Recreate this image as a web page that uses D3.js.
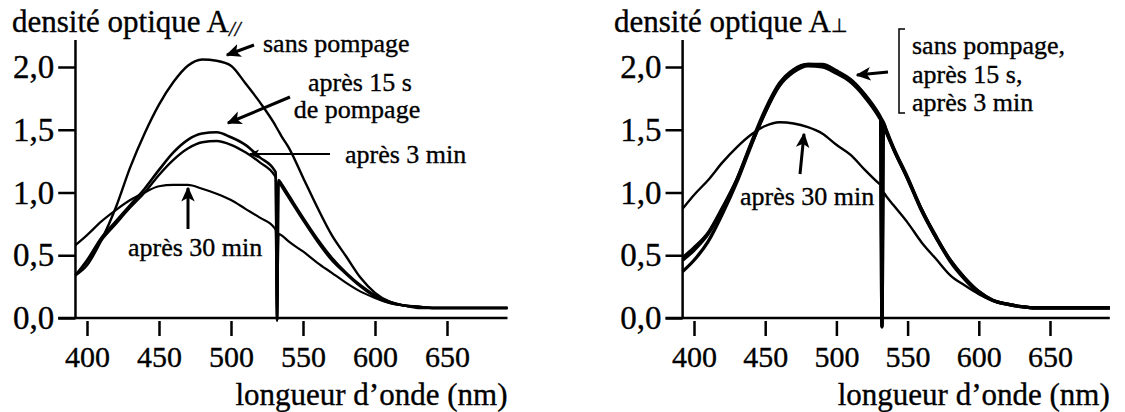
<!DOCTYPE html>
<html><head><meta charset="utf-8">
<script src="https://cdn.jsdelivr.net/npm/d3@7"></script>
<style>body{margin:0;background:#fff}svg{display:block}svg text{font-family:"Liberation Serif",Tinos,"Times New Roman",serif;fill:#000;stroke:#000;stroke-width:0.35px}</style>
</head><body><svg id="c" width="1125" height="412"></svg>
<script>
const wavelengths = [392,400,410,420,430,440,450,460,470,480,490,500,510,520,530,531,532,533,535,540,550,560,570,580,590,600,610,620,630,640,660,692];
const xTicks = [400,450,500,550,600,650];
const yTicks = [0,0.5,1,1.5,2];
const yTickLabels = ["0,0","0,5","1,0","1,5","2,0"];

// A// (parallel)
const paraSans    = [0.34,0.42,0.62,0.88,1.20,1.47,1.70,1.88,2.01,2.06,2.05,2.01,1.87,1.72,1.55,1.53,1.51,1.49,1.45,1.36,1.12,0.88,0.66,0.49,0.32,0.20,0.13,0.10,0.08,0.08,0.08,0.08];
const para15s     = [0.34,0.46,0.64,0.77,0.90,1.03,1.18,1.32,1.42,1.47,1.48,1.44,1.38,1.28,1.18,1.16,-0.02,1.10,1.07,0.98,0.80,0.63,0.48,0.36,0.26,0.18,0.13,0.10,0.09,0.08,0.08,0.08];
const para3min    = [0.34,0.45,0.62,0.75,0.88,1.00,1.14,1.26,1.35,1.40,1.41,1.38,1.32,1.24,1.14,1.12,-0.02,1.09,1.05,0.96,0.78,0.61,0.46,0.35,0.25,0.17,0.12,0.10,0.09,0.08,0.08,0.08];
const para30min   = [0.58,0.66,0.77,0.86,0.94,1.00,1.05,1.06,1.06,1.03,0.99,0.94,0.87,0.80,0.72,0.70,-0.02,0.67,0.66,0.61,0.53,0.44,0.36,0.28,0.21,0.16,0.12,0.10,0.09,0.08,0.08,0.08];
// A⊥ (perpendicular)
const perpSans    = [0.48,0.56,0.68,0.88,1.10,1.38,1.64,1.86,1.97,2.02,2.02,1.97,1.90,1.78,1.62,1.60,1.58,1.56,1.50,1.36,1.12,0.86,0.65,0.46,0.32,0.21,0.14,0.11,0.09,0.08,0.08,0.08];
const perp15s     = [0.46,0.54,0.67,0.87,1.10,1.39,1.66,1.87,1.98,2.02,2.01,1.96,1.89,1.77,1.61,1.59,-0.07,1.55,1.49,1.35,1.11,0.86,0.64,0.46,0.32,0.21,0.14,0.11,0.09,0.08,0.08,0.08];
const perp3min    = [0.37,0.46,0.61,0.83,1.08,1.37,1.64,1.85,1.96,2.01,2.00,1.95,1.88,1.76,1.60,1.58,-0.07,1.54,1.48,1.35,1.11,0.85,0.64,0.45,0.31,0.20,0.14,0.11,0.09,0.08,0.08,0.08];
const perp30min   = [0.87,0.98,1.10,1.24,1.36,1.46,1.53,1.56,1.55,1.52,1.47,1.38,1.30,1.18,1.07,1.06,-0.07,1.00,0.97,0.90,0.76,0.60,0.47,0.34,0.26,0.19,0.14,0.11,0.09,0.08,0.08,0.08];

const FONT = '"Liberation Serif", Tinos, "Times New Roman", serif';
const svg = d3.select("#c");
const defs = svg.append("defs");
defs.append("marker").attr("id","ah").attr("viewBox","0 0 10 10").attr("refX",9).attr("refY",5)
  .attr("markerWidth",5).attr("markerHeight",5).attr("markerUnits","strokeWidth").attr("orient","auto")
  .append("path").attr("d","M0,0.5 L10,5 L0,9.5 L2.5,5 Z").attr("fill","#000");

const y = d3.scaleLinear().domain([0,2]).range([318,67]);

function panel(opts){
  const g = svg.append("g");
  const x = d3.scaleLinear().domain([400,650]).range(opts.xr);
  g.append("line").attr("x1",x(380)).attr("x2",x(692)).attr("y1",y(0)).attr("y2",y(0)).attr("stroke","#000").attr("stroke-width",2.5);
  g.append("line").attr("x1",x(392)).attr("x2",x(392)).attr("y1",40).attr("y2",y(0)).attr("stroke","#000").attr("stroke-width",2.5);
  const xa = g.append("g").attr("transform",`translate(0,${y(0)+3})`)
    .call(d3.axisBottom(x).tickValues(xTicks).tickSize(15).tickPadding(10).tickFormat(d3.format("d")));
  xa.attr("font-family",FONT);
  xa.select(".domain").remove();
  xa.selectAll("line").attr("stroke","#000").attr("stroke-width",2.5);
  xa.selectAll("text").attr("font-size",30).attr("fill","#000");
  const ya = g.append("g").attr("transform",`translate(${x(392)},0)`)
    .call(d3.axisLeft(y).tickValues(yTicks).tickSize(x(392)-x(380)).tickPadding(4).tickFormat((d,i)=>yTickLabels[i]));
  ya.attr("font-family",FONT);
  ya.select(".domain").remove();
  ya.selectAll("line").attr("stroke","#000").attr("stroke-width",2.5);
  ya.selectAll("text").attr("font-size",33).attr("fill","#000");
  const line = d3.line().x((d,i)=>x(wavelengths[i])).y(d=>y(d)).curve(d3.curveMonotoneX);
  opts.series.forEach(s=>{
    g.append("path").attr("d",line(s.v)).attr("fill","none").attr("stroke","#000")
      .attr("stroke-width",s.w).attr("stroke-linejoin","round");
  });
  const t = g.append("text").attr("x",opts.tx).attr("y",32).attr("font-size",31).attr("font-family",FONT).text("densité optique A");
  t.append("tspan").attr("font-size",opts.subSize).attr("dy",opts.subDy).attr("font-style",opts.subStyle).text(opts.sub);
  g.append("text").attr("x",x(692)).attr("y",405).attr("text-anchor","end").attr("font-size",31).attr("font-family",FONT).text("longueur d’onde (nm)");
  return {g,x};
}

panel({xr:[87,447], tx:12, sub:"//", subSize:21, subDy:4, subStyle:"italic",
  series:[{v:paraSans,w:2.4},{v:para15s,w:2.6},{v:para3min,w:2.4},{v:para30min,w:2.2}]});
panel({xr:[694,1050], tx:614, sub:"⊥", subSize:19, subDy:0, subStyle:"normal",
  series:[{v:perpSans,w:3.3},{v:perp15s,w:3.3},{v:perp3min,w:3.3},{v:perp30min,w:2.4}]});

function arrow(x1,y1,x2,y2,w){
  svg.append("line").attr("x1",x1).attr("y1",y1).attr("x2",x2).attr("y2",y2)
    .attr("stroke","#000").attr("stroke-width",w||2.5).attr("marker-end","url(#ah)");
}
function label(x,yy,txt,anchor){
  svg.append("text").attr("x",x).attr("y",yy).attr("font-size",26).attr("font-family",FONT).attr("text-anchor",anchor||"start").text(txt);
}
label(263,52,"sans pompage");
arrow(254,45,227,55,3);
label(360,91,"après 15 s","middle");
label(357,118,"de pompage","middle");
arrow(290,97,228,123,3);
label(345,163,"après 3 min");
arrow(330,154,250,154,2);
label(128,256,"après 30 min");
arrow(188,229,188,188,3);
svg.append("path").attr("d","M905,29 H899 V113 H905").attr("fill","none").attr("stroke","#000").attr("stroke-width",1.5);
label(912,54,"sans pompage,");
label(912,83,"après 15 s,");
label(912,111,"après 3 min");
arrow(888,72,857,75,3);
label(740,205,"après 30 min");
arrow(800,174,804,134,3);
</script></body></html>
